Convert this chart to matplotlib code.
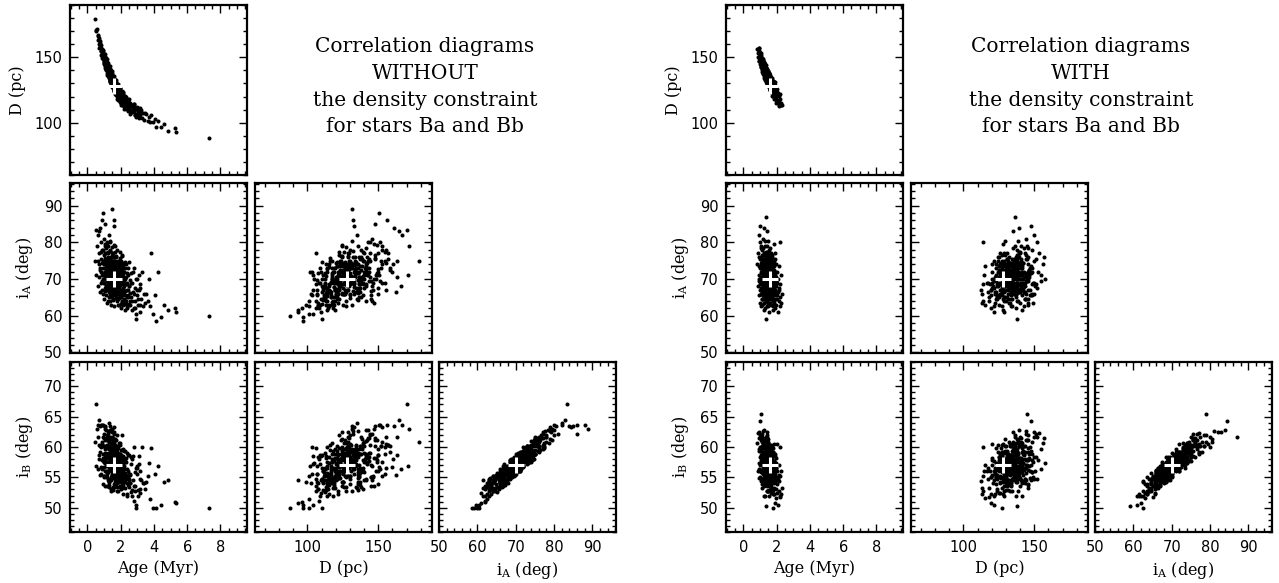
import matplotlib
matplotlib.use("Agg")
import matplotlib.pyplot as plt
from matplotlib.ticker import MultipleLocator

plt.rcParams["font.family"] = "DejaVu Serif"
plt.rcParams["mathtext.fontset"] = "dejavuserif"

# ---- samples WITHOUT the density constraint (read off the left block) ----
age_wo = [
    0.45, 0.52, 0.58, 0.61, 0.64, 0.67, 0.70, 0.72, 0.74, 0.76, 0.78, 0.80, 0.81,
    0.83, 0.84, 0.85, 0.86, 0.87, 0.88, 0.89, 0.90, 0.63, 0.69, 0.77, 0.82, 0.50,
    0.91, 0.93, 0.94, 0.95, 0.96, 0.97, 0.98, 0.99, 1.00, 1.01, 1.02, 1.03, 1.04,
    1.05, 1.06, 1.07, 1.08, 1.09, 1.10, 1.11, 1.12, 1.13, 1.14, 1.15, 1.16, 1.17,
    1.18, 1.19, 1.20, 1.21, 1.22, 1.23, 1.24, 1.25, 1.26, 1.27, 1.28, 1.29, 1.30,
    0.92, 1.05, 1.12, 1.18, 1.24, 0.99,
    1.31, 1.32, 1.33, 1.34, 1.35, 1.36, 1.37, 1.38, 1.39, 1.40, 1.41, 1.42, 1.43,
    1.44, 1.45, 1.46, 1.47, 1.48, 1.49, 1.50, 1.51, 1.52, 1.53, 1.54, 1.55, 1.56,
    1.57, 1.58, 1.59, 1.60, 1.61, 1.62, 1.63, 1.64, 1.65, 1.67, 1.69, 1.71, 1.73,
    1.75, 1.77, 1.79, 1.36, 1.47, 1.58,
    1.81, 1.83, 1.84, 1.86, 1.87, 1.89, 1.90, 1.92, 1.93, 1.95, 1.96, 1.98, 2.00,
    2.01, 2.03, 2.05, 2.06, 2.08, 2.10, 2.12, 2.14, 2.15, 2.17, 2.19, 2.21, 2.23,
    2.25, 2.27, 2.30, 2.32, 2.35, 2.37, 2.40, 2.43, 2.46, 2.49, 1.94, 2.04, 2.16, 2.28,
    2.52, 2.56, 2.60, 2.63, 2.67, 2.70, 2.74, 2.78, 2.81, 2.85, 2.88, 2.92, 2.96,
    3.00, 3.05, 3.10, 3.14, 3.19, 3.24, 3.30, 3.36, 3.42, 3.48, 2.90, 3.15,
    3.55, 3.62, 3.70, 3.78, 3.85, 3.95, 4.05, 4.15, 4.25, 4.40, 4.60, 4.85, 5.25, 5.35,
    7.30,
]
dist_wo = [
    179, 171, 172, 166, 167, 160.5, 163.5, 157, 162.5, 158, 161, 154.5, 157,
    159.5, 151.5, 155.5, 152.5, 155.8, 149.4, 156.5, 151, 163, 164.5, 158.5, 155, 170,
    154.6, 148.8, 155.4, 150, 152.1, 145.7, 152.8, 147.4, 149.5, 145.1, 152.8, 146.9, 150.1,
    142.2, 147.9, 144, 149.7, 145.3, 147.5, 141.1, 144.8, 148.4, 141.1, 145.2, 141.9, 146,
    138.2, 144.3, 140, 142.1, 145.3, 137.4, 141.6, 139.2, 142.9, 137, 141.2, 134.8, 139.5,
    150.7, 150.2, 142.8, 146.7, 135.6, 150.4,
    141.2, 135.8, 138.5, 133.1, 141.3, 135.4, 138.1, 132.7, 135.9, 130, 136.2, 137.9, 131.6,
    133.8, 130, 135.7, 131.4, 136.6, 128.3, 133, 129.7, 134.4, 130.6, 127.8, 135, 129.2,
    131.9, 125.1, 130.3, 126.5, 132.3, 127, 128.8, 124.5, 129.8, 125.3, 130.8, 125.3, 127.3,
    122.3, 127.3, 120.3, 131.4, 137.9, 133.1,
    125.8, 120.4, 127.2, 121.8, 123.1, 117.7, 125, 119.6, 122.4, 117.5, 125.3, 118.9, 122.5,
    114.8, 120.5, 116.7, 122.5, 118.1, 120.3, 114, 117.6, 121.5, 114.2, 118.3, 115.5, 119.3,
    112, 117.7, 113.3, 119.5, 111.1, 115.4, 112.5, 116.6, 111.3, 113.4, 126.2, 115.3, 119.8, 112.6,
    110.6, 115.2, 107.8, 112.5, 113.7, 107.9, 110.6, 114.2, 108.5, 111.7, 105.9, 110.1, 112.3,
    106.5, 108.6, 103.7, 109.4, 106, 109.6, 103.6, 107.2, 102.3, 107.4, 104.3, 111.3,
    106.5, 101, 104.5, 100.9, 106, 100.8, 103.2, 96.6, 101.5, 96.6, 98.9, 93.4, 96, 93.1,
    88,
]
inc_a_wo = [
    75, 71, 79, 68, 82, 74, 70.5, 77, 66.5, 73, 84, 69, 75.5,
    72, 80, 67, 78, 74.5, 71, 86, 69.5, 75, 83, 72.5, 77.5, 83.5,
    75, 70, 78, 66, 73, 81, 69, 76.5, 71.5, 64.5, 74, 79.5, 67.5,
    72, 85, 70.5, 77, 68, 75.5, 73, 65.5, 71, 78.5, 69.5, 74.5, 67,
    72.5, 80, 70, 76, 64, 73.5, 68.5, 77.5, 71, 66.5, 74, 82, 69,
    88, 72, 75, 63.5, 79, 71,
    72, 67, 75.5, 69, 64, 71.5, 78, 66, 73, 70, 68.5, 76, 63,
    71, 74, 67.5, 89, 65, 72.5, 69.5, 77, 66.5, 70.5, 73.5, 64.5, 68,
    86, 71, 75, 67, 69, 62.5, 72, 79, 65.5, 70, 73, 66, 68.5,
    71.5, 64, 74.5, 80.5, 70, 84.5,
    70, 66, 72.5, 64.5, 68, 75, 63, 69.5, 67, 71, 73.5, 65, 68.5,
    62, 70.5, 66.5, 76.5, 64, 69, 67.5, 71.5, 63.5, 66, 72, 68, 61.5,
    65.5, 70, 74, 64, 67, 62.5, 69, 65, 71, 63, 77.5, 66.5, 73, 68.5,
    68, 63, 71.5, 65, 61.5, 69, 66.5, 73, 62, 67.5, 64, 59, 70,
    65.5, 63, 67, 61, 68.5, 64.5, 72, 62.5, 66, 63.5, 60.5, 67.5,
    66, 64, 70, 62.5, 77, 60.5, 65.5, 58.5, 72, 59.5, 63, 61.5, 62, 61,
    60,
]
inc_b_wo = [
    60.8, 56.8, 63.0, 56.4, 63.6, 58.0, 58.7, 60.3, 55.4, 60.2, 63.5, 55.5, 60.4,
    56.7, 63.7, 56.6, 60.9, 60.5, 57.8, 63.6, 56.3, 61.6, 64.5, 59.1, 60.0, 67.0,
    58.8, 58.2, 61.7, 53.9, 60.2, 62.2, 55.2, 61.4, 57.6, 55.1, 57.6, 62.9, 56.0,
    57.4, 63.5, 59.0, 59.7, 56.8, 60.2, 58.2, 55.1, 56.1, 62.8, 57.0, 58.7, 55.1,
    59.8, 61.9, 55.9, 61.2, 54.5, 58.8, 57.5, 60.2, 58.2, 53.7, 61.0, 63.9, 56.6,
    63.6, 58.6, 61.4, 53.6, 62.6, 56.7,
    58.7, 54.3, 61.3, 56.9, 54.6, 56.3, 61.6, 56.4, 58.3, 57.8, 55.0, 60.1, 52.7,
    59.1, 58.3, 55.9, 62.9, 55.3, 57.8, 58.1, 61.4, 53.4, 57.0, 60.0, 53.2, 56.5,
    62.1, 56.6, 60.5, 56.6, 56.3, 53.4, 59.4, 61.3, 54.8, 55.6, 59.1, 54.2, 57.1,
    57.9, 52.7, 58.2, 63.5, 58.9, 63.3,
    56.4, 55.7, 59.9, 52.8, 56.1, 60.6, 54.3, 55.3, 55.9, 58.9, 58.6, 53.4, 57.8,
    53.0, 56.5, 56.1, 62.0, 53.3, 57.2, 54.1, 58.1, 52.3, 54.6, 59.3, 55.1, 53.2,
    54.6, 57.6, 58.2, 55.2, 54.1, 52.3, 56.4, 55.0, 56.0, 53.4, 60.6, 55.5, 59.6, 55.5,
    54.7, 54.0, 58.4, 52.6, 52.0, 58.0, 54.6, 60.0, 51.1, 55.8, 52.8, 50.0, 56.6,
    55.5, 52.0, 57.2, 52.5, 54.8, 54.5, 60.0, 54.1, 54.1, 53.1, 50.5, 56.1,
    54.2, 55.2, 57.3, 51.5, 59.9, 50.0, 55.6, 50.0, 56.8, 50.5, 54.3, 54.5, 51.0, 50.8,
    50.0,
]
# dense core of the left block
age_wo_core = [
    1.00, 1.02, 1.03, 1.05, 1.06, 1.08, 1.09, 1.11, 1.12, 1.14, 1.15, 1.17, 1.18,
    1.20, 1.21, 1.23, 1.24, 1.26, 1.27, 1.29,
    1.30, 1.31, 1.32, 1.33, 1.34, 1.35, 1.36, 1.37, 1.38, 1.39, 1.40, 1.41, 1.42,
    1.43, 1.44, 1.45, 1.46, 1.47, 1.48, 1.49, 1.50, 1.51, 1.52, 1.53, 1.54, 1.55,
    1.56, 1.57, 1.58, 1.59, 1.33, 1.41, 1.47, 1.52, 1.57,
    1.60, 1.61, 1.62, 1.63, 1.64, 1.65, 1.66, 1.67, 1.68, 1.69, 1.70, 1.71, 1.72,
    1.73, 1.74, 1.75, 1.76, 1.77, 1.78, 1.79, 1.80, 1.81, 1.82, 1.83, 1.84, 1.85,
    1.86, 1.87, 1.88, 1.89, 1.62, 1.68, 1.74, 1.80, 1.86,
    1.90, 1.91, 1.92, 1.93, 1.94, 1.95, 1.96, 1.97, 1.98, 1.99, 2.00, 2.01, 2.02,
    2.03, 2.04, 2.05, 2.06, 2.07, 2.08, 2.09, 2.10, 2.11, 2.12, 2.13, 2.14, 2.15,
    2.16, 2.17, 2.18, 2.19,
    2.20, 2.22, 2.24, 2.26, 2.28, 2.30, 2.32, 2.34, 2.36, 2.38, 2.40, 2.42, 2.44,
    2.46, 2.48, 2.50, 2.52, 2.54, 2.56, 2.58,
    2.62, 2.68, 2.73, 2.79, 2.84, 2.90, 2.97, 3.03, 3.10, 3.18,
    1.21, 1.24, 1.27, 1.29, 1.32, 1.35, 1.37, 1.40, 1.42, 1.44,
    1.46, 1.48, 1.50, 1.52, 1.53, 1.55, 1.57, 1.58, 1.60, 1.61,
    1.63, 1.64, 1.66, 1.67, 1.69, 1.70, 1.72, 1.74, 1.75, 1.77,
    1.79, 1.81, 1.83, 1.85, 1.88, 1.90, 1.93, 1.96, 1.99, 2.03,
    2.07, 2.12, 2.17, 1.25, 1.33, 1.39, 1.45, 1.51, 1.56, 1.62,
    1.65, 1.68, 1.73, 1.78, 1.84, 1.91, 1.98, 2.05, 2.14, 1.30,
    1.36, 1.43, 1.49, 1.54, 1.59, 1.63, 1.66, 1.71, 1.76, 1.82,
    1.87, 1.94, 2.01, 2.10, 1.28, 1.38, 1.47, 1.53, 1.57, 1.61,
    1.64, 1.68, 1.72, 1.80, 1.86, 1.95, 2.08, 1.41, 1.50, 1.55,
    1.60, 1.65, 1.70, 1.75, 1.81, 1.89, 1.97, 1.34, 1.46, 1.58,
]
dist_wo_core = [
    152, 146.3, 152.9, 143.2, 147.9, 145.2, 149.8, 140.1, 146.8, 141.1, 143.7, 149, 136.7,
    144.5, 139.1, 144.4, 137.1, 141.4, 138, 143.3,
    134, 138.7, 137.3, 143, 131.6, 134.8, 141.4, 132.1, 136.7, 134.4, 139, 129.7, 136.4,
    131.1, 133.8, 139.5, 127.2, 135.4, 130.1, 135.8, 128.5, 133.2, 129.9, 135.6, 126.3, 131,
    129.7, 135.4, 124.1, 132.3, 135.5, 139.7, 128.9, 132.4, 128.9,
    133, 125.8, 129.5, 122.3, 130.5, 126.8, 132.5, 122.8, 127, 129.8, 124.5, 132.3, 121,
    127.3, 122, 129.8, 124.5, 126.8, 118.5, 127.8, 122.5, 129.3, 119.6, 123.9, 120.7, 126,
    117.3, 123.6, 121.4, 126.2, 125.5, 133, 123.5, 126, 118.8,
    119, 126.8, 120.6, 123.4, 115.7, 124.5, 120.8, 116.6, 126.4, 118.2, 121.5, 113.8, 123.7,
    119, 121.8, 115.7, 124.5, 117.3, 119.1, 113.5, 121.3, 115.6, 122.5, 113.3, 118.7, 116.5,
    123.3, 114.2, 119, 110.8,
    119.7, 112.4, 117.1, 113.9, 120.6, 110.3, 115, 117.3, 111.5, 118.3, 112.5, 115.3, 109,
    116.8, 112.5, 118.3, 110.1, 112.9, 106.7, 114,
    108.6, 113.1, 109.7, 114.1, 105.8, 110.3, 106.7, 111.3, 104.2, 107.6,
    143.6, 137.6, 140, 142.3, 136.3, 132.8, 137.1, 139, 131.9, 133.8,
    136.2, 131.6, 128.5, 133.9, 130.6, 132, 127.9, 134.1, 124.5, 129.3,
    125.3, 130, 131, 125.8, 127.3, 122.5, 127, 129.5, 122.8, 127.8,
    123.3, 126.3, 119.9, 124.5, 121.9, 126.5, 119.4, 121.3, 115.7, 121.5,
    117.3, 121, 114.2, 139.7, 140, 131.9, 134.5, 129.7, 133.7, 127.5,
    129.3, 123, 126.3, 126.5, 120.7, 124.8, 119.4, 120.7, 115.6, 135.5,
    140.4, 132.6, 134.3, 127.8, 129.8, 131.8, 125, 127.3, 121.5, 126.1,
    122.1, 123.2, 116.8, 122.3, 137.2, 137.2, 128.9, 134.1, 128.9, 130.8,
    124.5, 127.5, 129, 122.5, 123.8, 118.5, 121.1, 133.7, 133.5, 127.5,
    131.5, 126.3, 130, 124.8, 120.8, 124.2, 119.6, 134.6, 133.7, 127.6,
]
inc_a_wo_core = [
    74.9, 68.9, 78.9, 71.8, 75.8, 66.7, 72.7, 77.1, 70.1, 73.5, 69.5, 79.4, 67.4,
    74.8, 70.8, 77.2, 68.7, 72.6, 65.1, 75.5,
    71.5, 73.5, 67.5, 80, 70, 74, 68, 77.6, 70.6, 74.6, 65.6, 71.6, 76.1,
    69.1, 72.6, 68.6, 78.6, 66.2, 73.7, 69.7, 76.2, 67.7, 71.7, 64.2, 74.7, 70.7,
    72.7, 66.7, 79.2, 69.2, 74, 67.6, 77.2, 70.2, 74.2,
    73.8, 65.8, 71.3, 77.3, 68.8, 72.3, 66.8, 74.8, 69.8, 64.8, 72.4, 75.9, 67.4,
    70.4, 68.9, 77.9, 65.9, 72.9, 67.9, 71.4, 64.5, 73.5, 69.5, 75, 66.5, 70.5,
    63, 72, 69, 74.5, 68.8, 71.8, 76.4, 66, 73,
    67.8, 73.8, 64.8, 70.8, 75.8, 66.3, 70.3, 68.8, 72.8, 63.3, 71.8, 65.3, 74.3,
    68.8, 70.8, 66.8, 76.3, 63.8, 69.3, 72.8, 65.8, 73.3, 67.3, 70.8, 62.8, 69.3,
    74.3, 66.8, 69.8, 64.3,
    69.6, 64.6, 73.1, 66.6, 74.6, 63.1, 68.6, 70.6, 65.1, 62.1, 71.6, 67.1, 73.1,
    65.6, 68.1, 63.1, 74.6, 66.1, 69.6, 64.1,
    69, 64, 72, 66, 62, 70, 67, 64.5, 71, 63,
    73, 69.5, 75, 71, 72, 74, 68.5, 75, 70.5, 72.5,
    69, 73.5, 67, 71.5, 74.5, 69.5, 68, 72, 76, 70.5,
    72, 68.5, 74, 70, 71, 72, 66.5, 74, 69.5, 71.5,
    68, 72.5, 66, 70.5, 73.5, 68.5, 67, 71, 75, 68.5,
    70, 66.5, 72, 71, 72, 74, 67.5, 75, 70.5, 72.5,
    69, 73.5, 66, 70.5, 73.5, 68.5, 67, 70, 74, 71.5,
    73, 68.5, 74, 70, 71, 73, 67.5, 74, 69.5, 71.5,
    68, 72.5, 65, 69.5, 75.5, 70.5, 68, 72, 76, 70.5,
    72, 68.5, 73, 69, 70, 72, 65.5, 75, 70.5, 72.5,
    69, 73.5, 66, 70.5, 73.5, 68.5, 67, 73, 76, 70.5,
]
inc_b_wo_core = [
    60.2, 55.2, 63.3, 57.7, 61.1, 53.6, 58.7, 60.1, 58.2, 58.4, 58.4, 61.2, 55.6,
    60.3, 56.0, 62.2, 56.1, 58.8, 53.4, 61.5,
    57.2, 59.7, 54.3, 62.8, 58.0, 59.7, 54.7, 62.6, 57.0, 60.4, 53.0, 58.1, 59.6,
    57.6, 57.9, 57.9, 60.7, 54.9, 59.7, 55.4, 61.6, 55.5, 58.3, 52.9, 61.1, 56.8,
    59.3, 53.9, 62.4, 57.6, 59.0, 54.5, 62.4, 56.8, 60.2,
    58.4, 56.0, 57.9, 59.9, 57.1, 57.9, 56.8, 58.1, 57.4, 53.9, 59.3, 59.3, 55.9,
    58.6, 55.1, 61.9, 54.2, 59.7, 54.1, 57.8, 54.9, 58.3, 58.2, 58.8, 55.5, 57.0,
    54.4, 56.9, 57.2, 58.7, 58.1, 57.9, 61.1, 53.4, 58.9,
    56.6, 58.0, 55.4, 57.0, 60.4, 53.5, 58.2, 56.8, 57.7, 54.9, 57.8, 55.3, 58.1,
    56.4, 58.6, 54.6, 59.5, 54.0, 58.1, 57.6, 55.3, 57.4, 55.5, 58.5, 53.7, 56.3,
    57.8, 56.6, 56.4, 54.2,
    56.3, 55.2, 57.7, 55.7, 59.3, 54.7, 54.9, 57.6, 55.2, 52.0, 59.0, 53.8, 58.7,
    55.4, 55.6, 54.5, 58.6, 55.4, 55.6, 54.0,
    57.2, 52.9, 58.5, 53.5, 53.6, 56.5, 56.8, 52.9, 58.5, 53.0,
    59.0, 55.8, 60.9, 57.2, 58.8, 58.0, 56.2, 60.7, 56.7, 59.7,
    55.5, 59.4, 55.2, 58.8, 58.1, 57.1, 55.2, 59.3, 60.0, 57.9,
    58.4, 55.3, 60.3, 56.6, 58.3, 56.9, 55.1, 60.1, 56.1, 59.1,
    54.9, 58.9, 54.6, 58.3, 57.5, 56.6, 54.7, 58.8, 59.5, 56.8,
    56.6, 55.8, 56.9, 57.6, 59.0, 58.6, 56.9, 58.8, 57.8, 58.2,
    57.5, 57.5, 55.2, 56.6, 60.1, 55.9, 56.0, 57.3, 58.3, 58.9,
    58.1, 57.5, 58.2, 57.5, 57.4, 59.7, 54.2, 59.6, 56.0, 59.0,
    56.7, 57.9, 55.7, 55.6, 60.2, 56.5, 56.9, 57.8, 60.9, 56.0,
    57.9, 57.1, 57.2, 57.1, 58.1, 57.7, 54.7, 58.9, 58.6, 57.8,
    57.7, 58.2, 55.3, 56.0, 58.9, 57.0, 54.9, 60.1, 59.2, 57.6,
]

# ---- samples WITH the density constraint ----
age_w = [
    0.84, 0.87, 0.90, 0.92, 0.94, 0.95, 0.96, 0.98, 0.99, 1.00, 1.01, 1.02, 1.03,
    1.04, 1.05, 1.06, 1.07, 1.08, 1.09, 1.10, 0.93, 0.97, 1.00, 1.03, 1.05, 1.07,
    1.08, 1.09, 1.10, 0.98,
    1.11, 1.12, 1.12, 1.13, 1.13, 1.14, 1.14, 1.15, 1.15, 1.16, 1.16, 1.17, 1.17,
    1.18, 1.18, 1.19, 1.19, 1.20, 1.20, 1.21, 1.21, 1.22, 1.22, 1.23, 1.23, 1.24,
    1.24, 1.25, 1.25, 1.26, 1.26, 1.27, 1.27, 1.28, 1.28, 1.29, 1.29, 1.30, 1.30,
    1.31, 1.31, 1.32, 1.32, 1.33, 1.33, 1.34, 1.34, 1.35, 1.35, 1.11,
    1.36, 1.36, 1.37, 1.37, 1.38, 1.38, 1.39, 1.39, 1.40, 1.40, 1.41, 1.41, 1.42,
    1.42, 1.43, 1.43, 1.44, 1.44, 1.45, 1.45, 1.46, 1.46, 1.47, 1.47, 1.48, 1.48,
    1.49, 1.49, 1.50, 1.50, 1.51, 1.51, 1.52, 1.52, 1.53, 1.53, 1.54, 1.54, 1.55,
    1.55, 1.56, 1.56, 1.57, 1.57, 1.58, 1.58, 1.59, 1.59, 1.60, 1.60,
    1.61, 1.62, 1.63, 1.64, 1.65, 1.66, 1.67, 1.68, 1.69, 1.70, 1.71, 1.72, 1.73,
    1.74, 1.75, 1.76, 1.77, 1.78, 1.79, 1.80, 1.81, 1.82, 1.83, 1.84, 1.85, 1.86,
    1.87, 1.88, 1.89, 1.90, 1.63, 1.67, 1.72, 1.77, 1.83,
    1.91, 1.93, 1.95, 1.97, 1.99, 2.01, 2.03, 2.05, 2.07, 2.09, 2.11, 2.13, 2.15,
    2.17, 2.19, 2.21, 2.23, 2.26, 2.29, 1.96, 2.04, 2.12,
    1.38, 1.76, 0.96, 0.92, 2.20,
]
dist_w = [
    156.5, 150.5, 153.5, 146.8, 154.7, 149.8, 154.5, 147.2, 149.4, 145, 151.2, 146.8, 153,
    144.6, 148.8, 142.4, 149.6, 145.7, 147.9, 143.5, 147.5, 151.1, 152, 143, 151.8, 145.6,
    142.7, 146.4, 149, 147.7,
    148.2, 142.8, 149.8, 140.5, 145.5, 143.6, 148.1, 140.7, 145.7, 138.4, 143.9, 146.6, 140.6,
    144.2, 138.2, 147.4, 141.4, 144.5, 138.5, 141.7, 146.2, 139.4, 142.4, 137.1, 144.1, 139.3,
    142.8, 135.5, 144.5, 139.7, 141.7, 136.9, 143.4, 137.1, 140.1, 144.3, 135.3, 141, 137.5,
    141.7, 135.2, 139.4, 133.4, 142.1, 136.1, 137.8, 140.3, 133, 139, 141.7,
    140.2, 134.7, 137.4, 132.9, 141.6, 135.6, 138.3, 132.8, 131, 140, 137.2, 135.2, 138.9,
    133.4, 130.7, 137.7, 134.9, 139.4, 131.6, 135.6, 136.3, 129.3, 132.5, 137, 137.8, 131.3,
    133, 135, 138.2, 129.7, 130.9, 132.9, 135.6, 128.6, 133.3, 131.3, 127.6, 135.6, 134.3,
    129.8, 128.5, 136, 131.7, 129.7, 135, 127, 128.2, 132.7, 132, 125.5,
    127.3, 132, 124.8, 133.6, 128.4, 129.6, 124.9, 131.7, 126.4, 129.7, 122.5, 130.3, 127,
    123.8, 131.6, 124.9, 127.7, 121.9, 129.2, 124.5, 119.8, 127.6, 122.4, 125.2, 121, 128.3,
    122.1, 125.4, 119.2, 126, 133.8, 125.9, 126.8, 131.7, 118.4,
    119.8, 126.4, 115, 124.1, 120.2, 125.8, 116.4, 121.5, 117.6, 122.7, 113.8, 120.4, 115.5,
    121.6, 113.7, 117.8, 114.9, 113.3, 113.2, 121.8, 123.2, 112.6,
    138, 127, 157, 157.5, 113.5,
]
inc_a_w = [
    74, 68, 77, 65.5, 71, 82, 69.5, 73, 63.5, 70, 75.5, 67, 72,
    79, 66, 74.5, 69, 78.5, 71.5, 64.5, 73.5, 68.5, 80, 70.5, 67.5, 76,
    62.5, 72.5, 69, 84.5,
    72, 66.5, 75, 69, 63, 71.5, 78, 67.5, 70, 74, 64.5, 72.5, 68,
    81, 70.5, 65.5, 73, 69.5, 76.5, 61.5, 71, 67, 74.5, 70, 66, 84,
    72, 68.5, 75.5, 63.5, 71, 69, 77, 65, 73.5, 70.5, 67.5, 79, 62,
    72, 68, 74, 66.5, 70, 87, 64, 71.5, 69, 76, 67,
    70, 73.5, 66, 71, 68.5, 75, 64, 72, 69.5, 77.5, 67, 70.5, 73,
    62.5, 71.5, 68, 83, 66.5, 74, 69, 72.5, 65, 70, 76, 67.5, 71,
    63.5, 73, 69, 80.5, 68, 74.5, 66, 70.5, 72, 64.5, 71, 67, 75.5,
    69.5, 61, 73, 68.5, 70, 78.5, 65.5, 72, 67.5, 70.5, 74,
    69, 72.5, 65, 70.5, 67, 74, 63, 71, 68.5, 76.5, 66, 70, 73,
    64.5, 69.5, 72, 61.5, 67.5, 71.5, 75, 65.5, 69, 63.5, 70.5, 68, 79.5,
    66.5, 72, 62, 68.5, 71, 66, 74.5, 69, 64,
    67, 70.5, 63, 68, 72, 65.5, 69, 61, 66.5, 70, 64, 67.5, 73.5,
    62.5, 68.5, 65, 71, 63.5, 66, 69.5, 64.5, 67,
    59, 62.5, 76, 70, 80,
]
inc_b_w = [
    60.7, 56.0, 62.3, 54.9, 59.7, 62.5, 56.3, 60.0, 55.1, 57.1, 62.2, 56.0, 57.8,
    65.5, 55.8, 59.3, 58.3, 62.0, 57.0, 54.8, 59.3, 58.4, 61.6, 58.7, 54.8, 61.2,
    54.4, 58.2, 57.5, 64.3,
    57.8, 56.2, 61.6, 55.8, 53.9, 59.2, 60.8, 54.6, 58.1, 59.0, 55.7, 58.8, 57.2,
    62.7, 56.4, 54.6, 60.6, 56.5, 61.1, 51.9, 58.1, 56.9, 58.9, 59.0, 54.6, 62.8,
    58.8, 55.1, 61.2, 53.5, 57.1, 58.1, 60.2, 55.2, 58.0, 57.9, 57.2, 60.8, 51.9,
    59.1, 55.7, 60.6, 53.7, 57.4, 61.7, 54.7, 57.4, 57.6, 60.2, 56.2,
    58.1, 58.2, 55.3, 56.2, 57.5, 60.0, 52.8, 58.7, 56.4, 61.7, 54.2, 58.0, 58.1,
    54.2, 58.0, 54.2, 62.4, 55.0, 58.1, 57.9, 58.1, 55.1, 55.6, 60.7, 56.6, 56.7,
    52.8, 59.5, 55.2, 61.3, 56.3, 57.9, 56.2, 56.9, 58.6, 52.9, 58.5, 54.6, 60.1,
    55.4, 52.0, 59.8, 54.6, 57.2, 60.2, 55.1, 57.1, 55.5, 58.4, 57.9,
    56.9, 57.0, 55.1, 57.1, 53.5, 59.3, 52.5, 58.1, 54.9, 60.2, 55.7, 55.3, 58.9,
    52.8, 56.0, 56.1, 52.3, 56.0, 56.6, 59.2, 52.2, 56.7, 52.2, 57.1, 54.1, 60.5,
    55.5, 56.5, 50.8, 55.3, 58.7, 54.0, 59.9, 54.6, 53.3,
    55.0, 57.4, 51.6, 55.1, 60.5, 52.5, 56.1, 50.5, 54.8, 55.0, 52.8, 55.4, 57.0,
    52.0, 55.3, 51.8, 56.1, 52.2, 53.3, 54.6, 53.9, 54.4,
    50.2, 50.0, 61.5, 57.3, 60.0,
]
# dense core of the right block
age_w_core = [
    1.10, 1.11, 1.11, 1.12, 1.13, 1.13, 1.14, 1.15, 1.15, 1.16, 1.17, 1.17, 1.18,
    1.19, 1.19, 1.20, 1.21, 1.21, 1.22, 1.23, 1.23, 1.24, 1.25, 1.25, 1.26, 1.27,
    1.27, 1.28, 1.29, 1.29,
    1.30, 1.30, 1.31, 1.31, 1.32, 1.32, 1.33, 1.33, 1.34, 1.34, 1.35, 1.35, 1.36,
    1.36, 1.37, 1.37, 1.38, 1.38, 1.39, 1.39, 1.40, 1.40, 1.41, 1.41, 1.42, 1.42,
    1.43, 1.43, 1.44, 1.44, 1.45, 1.45, 1.46, 1.46, 1.47, 1.47, 1.48, 1.48, 1.49,
    1.49, 1.50, 1.50, 1.33, 1.41, 1.47,
    1.51, 1.51, 1.52, 1.52, 1.53, 1.53, 1.54, 1.54, 1.55, 1.55, 1.56, 1.56, 1.57,
    1.57, 1.58, 1.58, 1.59, 1.59, 1.60, 1.60, 1.61, 1.61, 1.62, 1.62, 1.63, 1.63,
    1.64, 1.64, 1.65, 1.65, 1.66, 1.66, 1.67, 1.67, 1.68, 1.68, 1.69, 1.69, 1.70,
    1.70, 1.53, 1.57, 1.61, 1.65, 1.69,
    1.71, 1.72, 1.73, 1.74, 1.75, 1.76, 1.77, 1.78, 1.79, 1.80, 1.81, 1.82, 1.83,
    1.84, 1.85, 1.86, 1.87, 1.88, 1.89, 1.90, 1.91, 1.92, 1.93, 1.94, 1.95, 1.73,
    1.78, 1.83, 1.88, 1.93,
    1.16, 1.19, 1.22, 1.25, 1.28, 1.30, 1.32, 1.34, 1.36, 1.38,
    1.40, 1.42, 1.44, 1.46, 1.48, 1.50, 1.52, 1.54, 1.56, 1.58,
    1.60, 1.62, 1.64, 1.66, 1.68, 1.71, 1.74, 1.77, 1.81, 1.85,
    1.21, 1.26, 1.31, 1.35, 1.39, 1.43, 1.47, 1.51, 1.55, 1.59,
    1.63, 1.67, 1.72, 1.78, 1.24, 1.29, 1.33, 1.37, 1.41, 1.45,
    1.49, 1.53, 1.57, 1.61, 1.65, 1.70, 1.75, 1.82, 1.27, 1.34,
    1.40, 1.46, 1.52, 1.58, 1.64, 1.69, 1.36, 1.42, 1.48, 1.54,
    1.60, 1.23, 1.32, 1.38, 1.44, 1.50, 1.56, 1.62, 1.73, 1.30,
    1.39, 1.47, 1.55, 1.63, 1.43, 1.51, 1.59, 1.35, 1.45, 1.53,
    1.41, 1.49, 1.57, 1.37, 1.46, 1.54, 1.44, 1.52, 1.48, 1.50,
]
dist_w_core = [
    141.5, 148.2, 144.2, 149.8, 142, 145.5, 139.1, 145.8, 148.3, 140.4, 143.1, 137.6, 146.2,
    140.9, 148.4, 138, 143.2, 139.7, 145.4, 137.6, 143.6, 140.3, 145.5, 134.5, 140.7, 142.9,
    135.4, 140.6, 138.3, 144.8,
    142, 135, 137.7, 143.7, 140.4, 132.9, 135.1, 139.1, 143.8, 135.8, 137.5, 133, 141.2,
    135.7, 130.9, 139.4, 138.1, 133.6, 141.3, 135.8, 133.5, 139.5, 136.2, 130.7, 139.9, 131.9,
    134.2, 137.2, 137.9, 128.9, 130.6, 135.6, 139.8, 132.3, 133.5, 138, 135.8, 129.3, 130.5,
    136.5, 134.2, 131.7, 135.1, 137.7, 138,
    130.9, 136.9, 137.7, 129.7, 127.4, 133.4, 134.6, 131.1, 127.9, 137.9, 131.6, 129.1, 134.3,
    125.3, 129.5, 135.5, 136.8, 127.3, 130, 132.5, 131.3, 125.3, 127, 133.5, 133.8, 128.8,
    123.6, 131.6, 129.9, 134.4, 127.1, 124.6, 132.4, 128.4, 125.2, 130.2, 133.9, 126.4, 127.2,
    131.2, 134.4, 128.3, 134.3, 124.4, 129.4,
    131, 122.8, 128.5, 125.3, 132.1, 122.9, 126.7, 128.9, 120.2, 130, 124.8, 127.1, 121.9,
    131.2, 122.5, 125.3, 119.1, 127.9, 122.7, 126, 119.3, 129.1, 122.9, 120.2, 124, 120.5,
    130.9, 123.4, 130.9, 117.4,
    145.4, 139.4, 145.4, 139.5, 140.1, 135, 141.4, 135.8, 138.2, 141.6,
    133.5, 136.9, 129.9, 137.8, 133.8, 131.7, 137.2, 129.1, 133.6, 130.5,
    133.5, 125.5, 130.6, 127.1, 134.2, 127, 129.8, 123.2, 125.8, 129,
    140.7, 142.2, 135.7, 142, 131.3, 135.7, 137.5, 130.4, 133.4, 130.3,
    132.3, 127.4, 127.8, 130.4, 137.8, 140.3, 134.1, 139.9, 133.7, 139.6,
    130, 134.4, 130.3, 130.8, 132.4, 123.2, 128.6, 123.6, 143.9, 137.3,
    137, 131.3, 135.2, 127, 129.6, 131.9, 135.7, 140.4, 131.3, 133.6,
    128.5, 145.1, 137.4, 137.1, 131.4, 135.2, 131.1, 133, 123, 140,
    138.3, 133, 135.4, 127.3, 135.7, 129.9, 134.8, 137, 136.1, 128.4,
    138.7, 131.5, 131.3, 138.4, 131.3, 134.6, 133.9, 136.7, 132.3, 133.7,
]
inc_a_w_core = [
    73.5, 68.5, 76.5, 66, 71.5, 64.5, 74.5, 69.5, 73, 67.5, 78.5, 70, 70.5,
    75.5, 65.5, 72, 68, 74, 63.5, 72.5, 69, 77, 67, 71, 75, 66.5,
    71.5, 68.5, 80.5, 69.5,
    67.5, 72.5, 75.5, 64.5, 71, 74, 69, 77.5, 66.5, 71.5, 68, 74.5, 65.5,
    70.5, 73, 67, 76.5, 69.5, 72, 66, 73.5, 68.5, 79, 65, 71, 72.5,
    67.5, 75, 70, 64, 71.5, 74, 68.5, 76, 66.5, 70.5, 72.5, 69, 77,
    67.5, 62.5, 72, 74.5, 68, 71,
    71.5, 66.5, 75, 68.5, 76.5, 65.5, 70.5, 73, 67, 78, 69.5, 73.5, 64.5,
    72, 68, 75.5, 66, 71, 72.5, 63.5, 74, 69, 74.5, 67.5, 70.5, 77,
    65, 73, 70, 67.5, 71.5, 76, 68.5, 66.5, 73.5, 71, 64.5, 72.5, 75,
    69.5, 68, 73.5, 70, 72, 67,
    68, 73, 65, 76, 70, 66.5, 71.5, 74.5, 69, 64, 72.5, 67.5, 75,
    66, 70.5, 73.5, 68.5, 64.5, 71, 77, 67, 72, 69.5, 74, 65.5, 70,
    72.5, 68, 75.5, 69,
    72, 68.5, 74, 70, 66.5, 73.5, 69, 75, 71, 67.5,
    70.5, 73, 67, 71.5, 74.5, 69.5, 66, 72.5, 70, 75.5,
    68, 71, 73.5, 66.5, 70, 72, 69.5, 74, 67, 71.5,
    73, 69, 71.5, 67.5, 75, 70.5, 68, 72.5, 66, 74,
    70, 72.5, 68.5, 71, 74.5, 67, 70.5, 73, 69, 66.5,
    71.5, 74, 69, 72, 67.5, 70, 75, 68.5, 71, 73.5,
    66.5, 70.5, 73, 69.5, 71.5, 68, 74.5, 70, 67, 72,
    69, 75.5, 71, 67.5, 73, 70, 68.5, 72.5, 66, 71.5,
    72, 69.5, 74, 68, 70.5, 73.5, 67, 71, 75, 69,
    70, 72.5, 68, 71.5, 74, 69.5, 67.5, 73, 70.5, 71,
]
inc_b_w_core = [
    59.9, 55.8, 62.2, 54.8, 59.2, 53.2, 60.1, 57.9, 58.8, 57.6, 60.2, 57.8, 56.9,
    61.4, 54.7, 59.1, 54.8, 60.4, 53.8, 58.0, 58.1, 60.5, 56.2, 56.7, 60.3, 56.5,
    57.2, 56.8, 60.9, 57.8,
    56.4, 57.7, 61.3, 54.0, 56.4, 60.2, 56.9, 60.1, 56.6, 56.8, 56.0, 60.5, 54.1,
    58.6, 57.5, 55.9, 59.6, 58.3, 58.0, 55.5, 57.9, 56.4, 61.9, 53.6, 58.1, 56.9,
    56.8, 59.4, 57.7, 52.7, 57.8, 60.2, 54.9, 60.8, 54.6, 58.7, 57.6, 56.6, 59.2,
    56.3, 52.7, 57.1, 60.8, 55.7, 58.2,
    57.2, 55.9, 58.3, 56.5, 60.4, 53.5, 58.4, 58.3, 56.0, 59.1, 57.0, 58.0, 54.8,
    57.8, 54.6, 60.4, 56.0, 56.7, 57.9, 53.9, 57.5, 56.4, 59.2, 56.4, 56.2, 59.0,
    54.7, 58.5, 55.7, 56.6, 57.0, 60.4, 54.2, 55.6, 58.4, 56.4, 54.0, 59.0, 58.4,
    56.4, 57.0, 57.6, 57.3, 57.3, 55.2,
    55.8, 57.3, 54.8, 58.3, 56.6, 55.3, 56.7, 57.7, 57.1, 52.9, 57.0, 55.9, 57.7,
    54.6, 56.6, 56.5, 56.1, 54.3, 56.4, 58.8, 55.0, 56.0, 56.6, 58.2, 53.1, 57.8,
    56.7, 55.4, 58.5, 56.6,
    59.2, 55.5, 59.8, 58.2, 54.8, 60.3, 55.9, 59.9, 59.1, 54.3,
    56.9, 59.7, 54.1, 58.0, 60.1, 55.9, 56.1, 57.2, 56.8, 59.4,
    56.6, 56.5, 58.8, 53.2, 57.0, 57.5, 55.0, 59.8, 54.3, 57.7,
    58.2, 57.3, 59.2, 55.4, 58.7, 57.9, 56.0, 57.6, 55.5, 57.3,
    56.8, 59.1, 54.8, 57.4, 58.8, 56.5, 57.0, 57.6, 57.9, 55.1,
    57.0, 59.3, 57.3, 56.4, 55.9, 56.2, 59.1, 56.6, 57.0, 59.5,
    56.1, 56.7, 57.4, 57.0, 57.5, 56.6, 58.8, 57.4, 53.8, 58.7,
    55.8, 61.1, 56.8, 56.7, 58.6, 56.1, 56.4, 56.8, 55.0, 58.2,
    58.8, 55.4, 59.2, 56.3, 56.6, 60.1, 54.9, 56.8, 60.2, 57.2,
    56.0, 58.8, 56.8, 57.5, 58.3, 56.7, 56.6, 57.2, 57.1, 58.2,
]

# best solution (white cross)
best = {"age": 1.6, "dist": 128, "inc_a": 70, "inc_b": 57}

title_wo = ["Correlation diagrams", "WITHOUT", "the density constraint", "for stars Ba and Bb"]
title_w = ["Correlation diagrams", "WITH", "the density constraint", "for stars Ba and Bb"]

names = ["age", "dist", "inc_a", "inc_b"]
xlims = {"age": (-1.05, 9.6), "dist": (63, 188), "inc_a": (49.95, 96.2)}
ylims = {"dist": (60, 190), "inc_a": (49.8, 96.2), "inc_b": (46, 74)}
major = {"age": 2, "dist": 50, "inc_a": 10, "inc_b": 5}
minor = {"age": 0.5, "dist": 10, "inc_a": 2, "inc_b": 1}
labels = {"age": "Age (Myr)", "dist": "D (pc)",
          "inc_a": r"i$_{\rm A}$ (deg)", "inc_b": r"i$_{\rm B}$ (deg)"}

W, H = 1279, 583
fig = plt.figure(figsize=(W / 100, H / 100), dpi=100)

col_x = [70, 255, 439]
row_top = [5, 183, 362]
pw, ph = 177, 170


def corner(x_off, data, title):
    for row in range(3):
        yname = names[row + 1]
        for col in range(row + 1):
            xname = names[col]
            ax = fig.add_axes([(x_off + col_x[col]) / W, 1 - (row_top[row] + ph) / H, pw / W, ph / H])
            ax.scatter(data[xname], data[yname], s=8.5, c="k", linewidths=0)
            ax.plot(best[xname], best[yname], "+", color="w", ms=11, mew=2.2, zorder=5)
            ax.set_xlim(xlims[xname])
            ax.set_ylim(ylims[yname])
            ax.xaxis.set_major_locator(MultipleLocator(major[xname]))
            ax.xaxis.set_minor_locator(MultipleLocator(minor[xname]))
            ax.yaxis.set_major_locator(MultipleLocator(major[yname]))
            ax.yaxis.set_minor_locator(MultipleLocator(minor[yname]))
            ax.tick_params(which="both", direction="in", top=True, right=True,
                           labelsize=10.5, labelfontfamily="DejaVu Sans", pad=5.5)
            ax.tick_params(which="major", length=6, width=1)
            ax.tick_params(which="minor", length=3, width=1)
            for sp in ax.spines.values():
                sp.set_linewidth(1.6)
            if row == 2:
                ax.set_xlabel(labels[xname], fontsize=11.5, labelpad=4)
            else:
                ax.tick_params(labelbottom=False)
            if col == 0:
                ax.set_ylabel(labels[yname], fontsize=11.5, labelpad=6)
            else:
                ax.tick_params(labelleft=False)

    for i, line in enumerate(title):
        fig.text((x_off + 425) / W, 1 - (47 + 26.5 * i) / H, line,
                 ha="center", va="center", fontsize=14.5)


left = {"age": age_wo + age_wo_core, "dist": dist_wo + dist_wo_core,
        "inc_a": inc_a_wo + inc_a_wo_core, "inc_b": inc_b_wo + inc_b_wo_core}
right = {"age": age_w + age_w_core, "dist": dist_w + dist_w_core,
         "inc_a": inc_a_w + inc_a_w_core, "inc_b": inc_b_w + inc_b_w_core}

corner(0, left, title_wo)
corner(656, right, title_w)

fig.savefig("out.png", dpi=100)
